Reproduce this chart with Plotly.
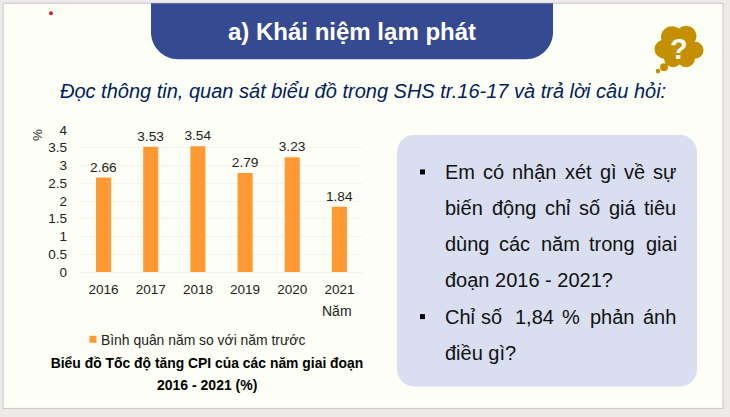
import plotly.graph_objects as go

# ---- data ----
years = ["2016", "2017", "2018", "2019", "2020", "2021"]
values = [2.66, 3.53, 3.54, 2.79, 3.23, 1.84]
value_labels = ["2.66", "3.53", "3.54", "2.79", "3.23", "1.84"]
y_ticks = [0, 0.5, 1, 1.5, 2, 2.5, 3, 3.5, 4]
y_tick_labels = ["0", "0.5", "1", "1.5", "2", "2.5", "3", "3.5", "4"]
series_name = "Bình quân năm so với năm trước"
chart_title_1 = "Biểu đồ Tốc độ tăng CPI của các năm giai đoạn"
chart_title_2 = "2016 - 2021 (%)"
heading = "a) Khái niệm lạm phát"
subheading = "Đọc thông tin, quan sát biểu đồ trong SHS tr.16-17 và trả lời câu hỏi:"

W, H = 730, 417
L, R, T, B = 80, 363, 130, 272.3
FONT = "Liberation Sans, Arial, sans-serif"


def px(x):
    return (x - L) / (R - L)


def py(y):
    return (B - y) / (B - T)


shapes = []
annots = []


def rect(x0, y0, x1, y1, fill, line=None):
    shapes.append(dict(type="rect", xref="paper", yref="paper", x0=px(x0), x1=px(x1),
                       y0=py(y1), y1=py(y0), fillcolor=fill, layer="below",
                       line=dict(color=line or fill, width=1 if line else 0)))


def rrect(x0, y0, x1, y1, r_top, r_bot, fill):
    k = 0.45
    d = f"M{px(x0 + r_top)},{py(y0)} L{px(x1 - r_top)},{py(y0)} "
    if r_top:
        d += f"C{px(x1 - r_top * k)},{py(y0)} {px(x1)},{py(y0 + r_top * k)} {px(x1)},{py(y0 + r_top)} "
    d += f"L{px(x1)},{py(y1 - r_bot)} "
    d += f"C{px(x1)},{py(y1 - r_bot * k)} {px(x1 - r_bot * k)},{py(y1)} {px(x1 - r_bot)},{py(y1)} "
    d += f"L{px(x0 + r_bot)},{py(y1)} "
    d += f"C{px(x0 + r_bot * k)},{py(y1)} {px(x0)},{py(y1 - r_bot * k)} {px(x0)},{py(y1 - r_bot)} "
    d += f"L{px(x0)},{py(y0 + r_top)} "
    if r_top:
        d += f"C{px(x0)},{py(y0 + r_top * k)} {px(x0 + r_top * k)},{py(y0)} {px(x0 + r_top)},{py(y0)} "
    d += "Z"
    shapes.append(dict(type="path", xref="paper", yref="paper", path=d, fillcolor=fill,
                       layer="below", line=dict(width=0)))


def circle(cx, cy, r, fill):
    shapes.append(dict(type="circle", xref="paper", yref="paper", x0=px(cx - r), x1=px(cx + r),
                       y0=py(cy + r), y1=py(cy - r), fillcolor=fill, layer="below",
                       line=dict(width=0)))


def text(x, y, s, size, color="#111111", anchor="center", angle=0):
    annots.append(dict(xref="paper", yref="paper", x=px(x), y=py(y), text=s, showarrow=False,
                       xanchor=anchor, yanchor="middle", textangle=angle, borderpad=0, borderwidth=0,
                       font=dict(family=FONT, size=size, color=color)))


# slide
rect(3, 3, 723, 409, "#FDFFF6", "#C9C6C6")
# heading pill
rrect(151, 3, 553, 59, 0, 27, "#354A90")
text(352, 31, f"<b>{heading}</b>", 24, "#FFFFFF")
text(362.5, 91, f"<i>{subheading}</i>", 20, "#002060")
circle(51, 13, 2, "#E02020")

# thought bubble
gold = "#C49000"
for cx, cy, r in [(664, 49, 9.5), (672, 37, 11), (686, 36, 10.5), (695, 50, 8.5),
                  (686, 58, 9), (673, 58, 9), (680, 47, 14)]:
    circle(cx, cy, r, gold)
circle(664, 67, 4, gold)
circle(658, 71, 2.3, gold)
text(679, 49, "<b>?</b>", 29, "#FFFFFF")

# question panel
rrect(397, 135, 697, 387, 17, 17, "#D9DFF0")
rect(420, 169.5, 425, 174.5, "#000000")
rect(420, 314.5, 425, 319.5, "#000000")

panel_words = [
    (172, [("Em", 195), ("có", 308), ("nhận", 397), ("xét", 555), ("gì", 660), ("về", 733), ("sự", 820)]),
    (208, [("biến", 195), ("động", 335), ("chỉ", 495), ("số", 597), ("giá", 687), ("tiêu", 793)]),
    (244, [("dùng", 195), ("các", 358), ("năm", 482), ("trong", 628), ("giai", 797)]),
    (280, [("đoạn 2016 - 2021?", 195)]),
    (317, [("Chỉ", 195), ("số", 302), ("1,84", 406), ("%", 547), ("phản", 630), ("ánh", 790)]),
    (353, [("điều gì?", 195)]),
]
for y, words in panel_words:
    for w, zx in words:
        text(380 + zx / 3, y, w, 20, "#111111", "left")

# chart extras
text(38, 135, "%", 13.5, "#333333", angle=-90)
text(337, 311, "Năm", 14, "#222222")
text(207, 386, f"<b>{chart_title_2}</b>", 14, "#000000")

fig = go.Figure(go.Bar(
    x=years, y=values, name=series_name, text=value_labels, textposition="outside",
    constraintext="none",
    textfont=dict(family=FONT, size=13.7, color="#222222"), cliponaxis=False,
    marker=dict(color="#FF9933", line=dict(width=0)), showlegend=True,
))
fig.update_layout(
    width=W, height=H, autosize=False,
    margin=dict(l=L, r=W - R, t=T, b=H - B, pad=0),
    paper_bgcolor="#EFEAEA", plot_bgcolor="rgba(0,0,0,0)",
    bargap=0.68,
    font=dict(family=FONT, size=13.5, color="#222222"),
    title=dict(text=f"<b>{chart_title_1}</b>", x=207 / W, xanchor="center",
               y=1 - 363 / H, yanchor="middle", yref="container", xref="container",
               font=dict(family=FONT, size=13.9, color="#000000")),
    showlegend=True,
    legend=dict(orientation="h", x=px(61), y=py(324), xanchor="left", yanchor="top",
                bgcolor="rgba(0,0,0,0)", font=dict(family=FONT, size=13.9, color="#222222")),
    shapes=shapes, annotations=annots,
    xaxis=dict(type="category", showgrid=False, showline=True, linecolor="#F2F2EC", linewidth=1,
               ticks="", ticklabelstandoff=5, tickfont=dict(family=FONT, size=13.5, color="#222222")),
    yaxis=dict(range=[0, 4], tickmode="array", tickvals=y_ticks, ticktext=y_tick_labels,
               showgrid=True, gridcolor="#F4F4EC", gridwidth=1, zeroline=False, showline=False,
               ticks="", ticklabelstandoff=12, tickfont=dict(family=FONT, size=13.5, color="#222222")),
)
# Plotly's legend swatch has a fixed size and gap; bring it to the reference's small square beside the text.
post = """
document.body.style.margin='0';document.body.style.overflow='hidden';
document.querySelectorAll('.legendpoints path').forEach(function(p){
  p.setAttribute('d','M3.5,3.5H-3.5V-3.5H3.5Z');
  p.setAttribute('transform','translate(32,0)');
});
"""
fig.write_html("out.html", config=dict(displayModeBar=False), post_script=post)
